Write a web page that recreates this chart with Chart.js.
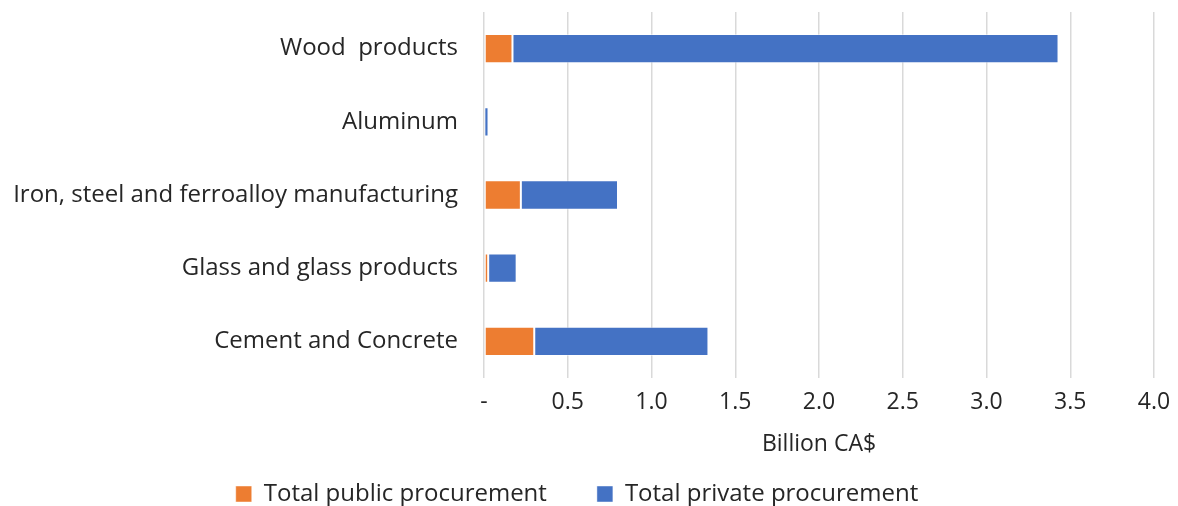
<!DOCTYPE html>
<html>
<head>
<meta charset="utf-8">
<script src="https://cdn.jsdelivr.net/npm/chart.js@4/dist/chart.umd.min.js"></script>
<style>
  html, body { margin: 0; padding: 0; background: #fff; }
  #wrap { width: 1178px; height: 506px; }
</style>
</head>
<body>
<div id="wrap"><canvas id="chart"></canvas></div>
<script>
// Data (billion CA$)
const categories = [
  'Wood  products',
  'Aluminum',
  'Iron, steel and ferroalloy manufacturing',
  'Glass and glass products',
  'Cement and Concrete'
];
const publicProcurement = [0.17, 0.002, 0.22, 0.025, 0.30];
const privateProcurement = [3.26, 0.025, 0.58, 0.17, 1.04];
const xTicks = [0, 0.5, 1.0, 1.5, 2.0, 2.5, 3.0, 3.5, 4.0];

const FONT = '"Open Sans", Lato, sans-serif';
const TEXT = '#262626';
const SIZE = 23;
const LABEL_SIZE = 24;

new Chart(document.getElementById('chart'), {
  type: 'bar',
  data: {
    labels: categories,
    datasets: [
      {
        label: 'Total public procurement',
        data: publicProcurement,
        backgroundColor: '#ED7D31',
        borderColor: 'rgba(255,255,255,0.45)',
        borderWidth: 1,
        borderSkipped: false,
        categoryPercentage: 1,
        barPercentage: 0.4,
      },
      {
        label: 'Total private procurement',
        data: privateProcurement,
        backgroundColor: '#4472C4',
        borderColor: 'rgba(255,255,255,0.45)',
        borderWidth: 1,
        borderSkipped: false,
        categoryPercentage: 1,
        barPercentage: 0.4,
      },
    ],
  },
  options: {
    indexAxis: 'y',
    responsive: true,
    maintainAspectRatio: false,
    animation: false,
    layout: { padding: { top: 12, right: 24, bottom: -10, left: 0 } },
    scales: {
      x: {
        stacked: true,
        min: 0,
        max: 4,
        afterBuildTicks: (scale) => {
          scale.ticks = xTicks.map((v) => ({ value: v }));
        },
        afterFit: (scale) => {
          scale.height = 102;
          scale.paddingLeft = 0;
          scale.paddingRight = 0;
        },
        grid: { color: '#d9d9d9', lineWidth: 1.5, drawTicks: false },
        border: { display: false },
        ticks: {
          padding: 11,
          color: TEXT,
          font: { family: FONT, size: SIZE },
          callback: (v) => (v === 0 ? '-' : Number(v).toFixed(1)),
        },
        title: {
          display: true,
          text: 'Billion CA$',
          color: TEXT,
          font: { family: FONT, size: SIZE },
          padding: { top: 4, bottom: 22 },
        },
      },
      y: {
        stacked: true,
        afterFit: (scale) => {
          scale.width = 484;
          scale.paddingTop = 0;
          scale.paddingBottom = 0;
        },
        grid: { display: false, drawTicks: false },
        border: { display: false },
        ticks: {
          padding: 26,
          color: TEXT,
          font: { family: FONT, size: LABEL_SIZE },
        },
      },
    },
    plugins: {
      legend: {
        position: 'bottom',
        labels: {
          color: TEXT,
          font: { family: FONT, size: LABEL_SIZE },
          boxWidth: 16,
          boxHeight: 16,
          padding: 2,
          generateLabels: (chart) => {
            const items = Chart.defaults.plugins.legend.labels.generateLabels(chart);
            items[0].text += '\u2003\u2003';
            return items;
          },
        },
      },
      tooltip: { enabled: false },
    },
  },
});
</script>
</body>
</html>
